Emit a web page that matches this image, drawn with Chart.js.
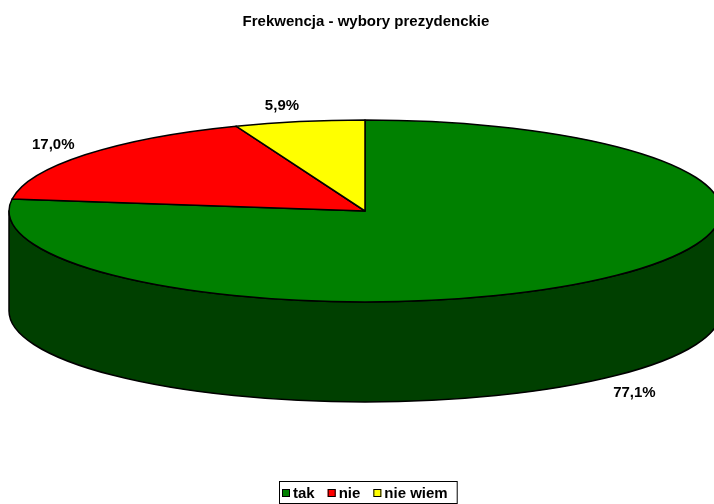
<!DOCTYPE html>
<html>
<head>
<meta charset="utf-8">
<script src="https://cdn.jsdelivr.net/npm/chart.js@4.4.0/dist/chart.umd.min.js"></script>
<style>
  html, body { margin: 0; padding: 0; background: #fff; }
</style>
</head>
<body>
<canvas id="myChart" width="714" height="504"></canvas>
<script>
/** Chart data **/
const labels = ["tak", "nie", "nie wiem"];
const values = [77.1, 17.0, 5.9];
const topColors = ["#008000", "#ff0000", "#ffff00"];
const sideColors = ["#004000", "#800000", "#808000"];

/** Look of the tilted pie (centre, radii, thickness) **/
const tilt = { cx: 365, cy: 211, rx: 356, ry: 91, depth: 100 };
const FONT = "'Liberation Sans', Arial, sans-serif";
const FONT_SIZE = 15;

//  Point on the top ellipse for a canvas angle
function onEllipse(a, dy) {
  return [tilt.cx + tilt.rx * Math.cos(a), tilt.cy + tilt.ry * Math.sin(a) + (dy || 0)];
}

/** Plugin: draws the arcs Chart.js computed as a 3D pie **/
const pie3d = {
  id: "pie3d",
  beforeDatasetsDraw(chart) {
    const ctx = chart.ctx;
    const arcs = chart.getDatasetMeta(0).data;
    ctx.save();
    ctx.lineWidth = 1.5;
    ctx.strokeStyle = "#000";
    ctx.lineJoin = "round";

    //  Side walls, only the front half (0..PI) can be seen
    arcs.forEach((arc, i) => {
      const s = arc.startAngle, e = arc.endAngle;
      [0, 2 * Math.PI].forEach((k) => {
        const a1 = Math.max(s, k), a2 = Math.min(e, k + Math.PI);
        if (a2 <= a1) return;
        ctx.beginPath();
        ctx.ellipse(tilt.cx, tilt.cy, tilt.rx, tilt.ry, 0, a1, a2);
        ctx.ellipse(tilt.cx, tilt.cy + tilt.depth, tilt.rx, tilt.ry, 0, a2, a1, true);
        ctx.closePath();
        ctx.fillStyle = sideColors[i];
        ctx.fill();
        ctx.stroke();
      });
    });

    //  Top faces
    arcs.forEach((arc, i) => {
      ctx.beginPath();
      ctx.moveTo(tilt.cx, tilt.cy);
      ctx.ellipse(tilt.cx, tilt.cy, tilt.rx, tilt.ry, 0, arc.startAngle, arc.endAngle);
      ctx.closePath();
      ctx.fillStyle = topColors[i];
      ctx.fill();
      ctx.stroke();
    });
    ctx.restore();
    return false;
  },
  afterDraw(chart) {
    const ctx = chart.ctx;
    const arcs = chart.getDatasetMeta(0).data;
    ctx.save();

    //  Percent labels outside the slices
    ctx.font = "bold " + FONT_SIZE + "px " + FONT;
    ctx.fillStyle = "#000";
    ctx.textAlign = "center";
    ctx.textBaseline = "middle";
    arcs.forEach((arc, i) => {
      const m = (arc.startAngle + arc.endAngle) / 2;
      const c = Math.cos(m), s = Math.sin(m);
      const p = onEllipse(m, s > 0 ? tilt.depth : 0);
      const x = p[0] + 16 * Math.sign(c) + 24 * c + 3;
      const y = p[1] + 17 * s + 1;
      ctx.fillText(values[i].toFixed(1).replace(".", ",") + "%", x, y);
    });

    //  Legend in a frame (Excel style: small box, text right after it)
    const items = chart.legend.legendItems || [];
    const widths = items.map((it) => 8 + 3 + ctx.measureText(it.text).width);
    const total = widths.reduce((a, b) => a + b, 0) + 13 * (items.length - 1);
    let x = Math.round(367.5 - (total + 12) / 2) + 3;
    const yMid = 493;
    ctx.strokeStyle = "#000";
    ctx.lineWidth = 1;
    ctx.strokeRect(x - 3 + 0.5, 481.5, total + 12, 22);
    ctx.textAlign = "left";
    items.forEach((it, i) => {
      ctx.fillStyle = it.fillStyle;
      ctx.fillRect(x, yMid - 4, 8, 8);
      ctx.strokeRect(x + 0.5, yMid - 4 + 0.5, 7, 7);
      ctx.fillStyle = "#000";
      ctx.fillText(it.text, x + 11, yMid + 1);
      x += widths[i] + 13;
    });
    ctx.restore();
  },
};

const ctx = document.getElementById("myChart");

let myChart = new Chart(ctx, {
  type: "pie",
  data: {
    labels: labels,
    datasets: [
      {
        data: values,
        backgroundColor: topColors,
        borderColor: "#000",
        borderWidth: 1,
      },
    ],
  },
  options: {
    responsive: false,
    animation: false,
    //  Left padding moves the centred title over the pie centre
    layout: { padding: { left: 18 } },
    plugins: {
      title: {
        display: true,
        text: "Frekwencja - wybory prezydenckie",
        color: "#000",
        font: { family: FONT, size: FONT_SIZE, weight: "bold" },
        padding: { top: 13, bottom: 10 },
      },
      //  Legend items come from Chart.js, drawn by the plugin above
      legend: { display: false },
      tooltip: { enabled: false },
    },
  },
  plugins: [pie3d],
});
</script>
</body>
</html>
